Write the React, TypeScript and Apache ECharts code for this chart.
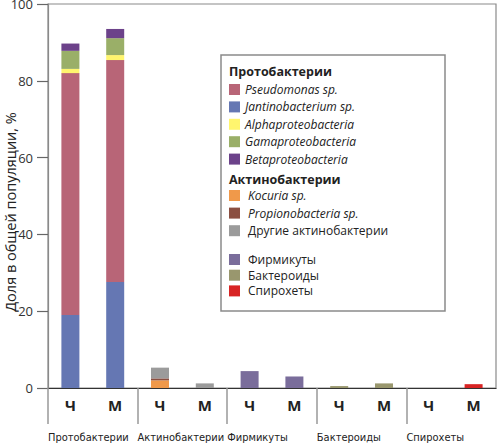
import React, { useEffect, useRef } from "react";
import * as echarts from "echarts";

const categories = ["Ч", "М", "Ч", "М", "Ч", "М", "Ч", "М", "Ч", "М"];
const groups = ["Протобактерии", "Актинобактерии", "Фирмикуты", "Бактероиды", "Спирохеты"];
const yAxisTitle = "Доля в общей популяции, %";

const jantinobacterium = [19, 27.6, 0, 0, 0, 0, 0, 0, 0, 0];
const pseudomonas = [63, 57.8, 0, 0, 0, 0, 0, 0, 0, 0];
const alphaproteo = [1.1, 1.3, 0, 0, 0, 0, 0, 0, 0, 0];
const gamaproteo = [4.7, 4.4, 0, 0, 0, 0, 0, 0, 0, 0];
const betaproteo = [1.9, 2.4, 0, 0, 0, 0, 0, 0, 0, 0];
const kocuria = [0, 0, 2.0, 0, 0, 0, 0, 0, 0, 0];
const propionobacteria = [0, 0, 0.5, 0, 0, 0, 0, 0, 0, 0];
const otherActino = [0, 0, 2.8, 1.2, 0, 0, 0, 0, 0, 0];
const firmicutes = [0, 0, 0, 0, 4.4, 3.0, 0, 0, 0, 0];
const bacteroids = [0, 0, 0, 0, 0, 0, 0.5, 1.2, 0, 0];
const spirochetes = [0, 0, 0, 0, 0, 0, 0, 0, 0, 1.0];

const seriesDefs = [
  { name: "Jantinobacterium sp.", data: jantinobacterium, color: "#6577b3" },
  { name: "Pseudomonas sp.", data: pseudomonas, color: "#b86577" },
  { name: "Alphaproteobacteria", data: alphaproteo, color: "#fff56e" },
  { name: "Gamaproteobacteria", data: gamaproteo, color: "#9aaf68" },
  { name: "Betaproteobacteria", data: betaproteo, color: "#6c428a" },
  { name: "Kocuria sp.", data: kocuria, color: "#f0994a" },
  { name: "Propionobacteria sp.", data: propionobacteria, color: "#8b4f41" },
  { name: "Другие актинобактерии", data: otherActino, color: "#9b9b9b" },
  { name: "Фирмикуты", data: firmicutes, color: "#7a6d9b" },
  { name: "Бактероиды", data: bacteroids, color: "#99976e" },
  { name: "Спирохеты", data: spirochetes, color: "#d82424" },
];

const legendProteo = ["Pseudomonas sp.", "Jantinobacterium sp.", "Alphaproteobacteria", "Gamaproteobacteria", "Betaproteobacteria"];
const legendActino = ["Kocuria sp.", "Propionobacteria sp.", "Другие актинобактерии"];
const legendOther = ["Фирмикуты", "Бактероиды", "Спирохеты"];
const italicNames = ["Pseudomonas sp.", "Jantinobacterium sp.", "Alphaproteobacteria", "Gamaproteobacteria", "Betaproteobacteria", "Kocuria sp.", "Propionobacteria sp."];

const FONT = "Open Sans";

export default function App() {
  const ref = useRef<HTMLDivElement>(null);
  useEffect(() => {
    document.body.style.margin = "0";
    const chart = echarts.init(ref.current!, null, { renderer: "svg" });
    const legendBase = (names: string[], top: number, gap: number, pad: number) => ({
      orient: "vertical",
      left: 229,
      top,
      padding: 0,
      itemGap: gap,
      itemWidth: 11,
      itemHeight: 11,
      icon: "rect",
      selectedMode: false,
      textStyle: { fontSize: 12, color: "#222", fontFamily: FONT, padding: [0, 0, 0, pad] },
      data: names.map((n) => ({
        name: n,
        itemStyle: { borderWidth: 0 },
        textStyle: italicNames.includes(n) ? { fontStyle: "italic" } : {},
      })),
    });
    chart.setOption({
      animation: false,
      textStyle: { fontFamily: FONT },
      grid: {
        left: 48,
        right: 3,
        top: 4,
        bottom: 60,
        outerBoundsMode: "none",
        containLabel: false,
        show: true,
        borderColor: "#8a8a8a",
        borderWidth: 1.2,
      },
      graphic: [
        {
          type: "rect",
          z: 1,
          shape: { x: 221, y: 55, width: 224, height: 256 },
          style: { fill: "#fff", stroke: "#8a8a8a", lineWidth: 1.5 },
        },
        {
          type: "text",
          z: 5,
          x: 229,
          y: 71,
          style: { text: "Протобактерии", fontSize: 12.5, fontWeight: "bold", fill: "#222", fontFamily: FONT, verticalAlign: "middle" },
        },
        {
          type: "text",
          z: 5,
          x: 229,
          y: 179.5,
          style: { text: "Актинобактерии", fontSize: 12.5, fontWeight: "bold", fill: "#222", fontFamily: FONT, verticalAlign: "middle" },
        },
        {
          type: "text",
          z: 5,
          x: 10,
          y: 212,
          rotation: Math.PI / 2,
          style: { text: yAxisTitle, fontSize: 14.5, fill: "#222", fontFamily: FONT, align: "center", verticalAlign: "middle" },
        },
      ],
      legend: [
        legendBase(legendProteo, 83.5, 5.4, 0),
        legendBase(legendActino, 189.5, 5.6, 3),
        legendBase(legendOther, 253.5, 3.7, 3),
      ],
      xAxis: [
        {
          type: "category",
          data: categories,
          position: "bottom",
          axisLine: { lineStyle: { color: "#333", width: 1.2 } },
          axisTick: { show: false },
          axisLabel: { interval: 0, fontWeight: "bold", fontSize: 15, color: "#222", margin: 9 },
        },
        {
          type: "category",
          data: groups,
          position: "bottom",
          axisLine: { show: false },
          axisTick: { alignWithLabel: true, length: 20, lineStyle: { color: "#999", width: 1.5 } },
          axisLabel: { show: false },
        },
        {
          type: "category",
          data: [...groups, ""],
          boundaryGap: false,
          position: "bottom",
          axisLine: { show: false },
          axisTick: { length: 36, interval: (i: number) => i < 5, lineStyle: { color: "#999", width: 1.5 } },
          axisLabel: { interval: 0, align: "left", margin: 44, fontSize: 11, color: "#222", fontFamily: "DejaVu Sans Condensed" },
        },
      ],
      yAxis: {
        type: "value",
        min: 0,
        max: 100,
        interval: 20,
        axisLine: { show: true, lineStyle: { color: "#8a8a8a", width: 1.2 } },
        axisTick: { show: true, length: 11, lineStyle: { color: "#666", width: 1.2 } },
        splitLine: { show: false },
        axisLabel: { fontSize: 13, color: "#333", margin: 15 },
      },
      series: seriesDefs.map((s) => ({
        name: s.name,
        type: "bar",
        stack: "total",
        barWidth: 18,
        data: s.data,
        itemStyle: { color: s.color },
      })),
    });
    return () => chart.dispose();
  }, []);
  return <div ref={ref} style={{ width: 499, height: 448 }} />;
}
